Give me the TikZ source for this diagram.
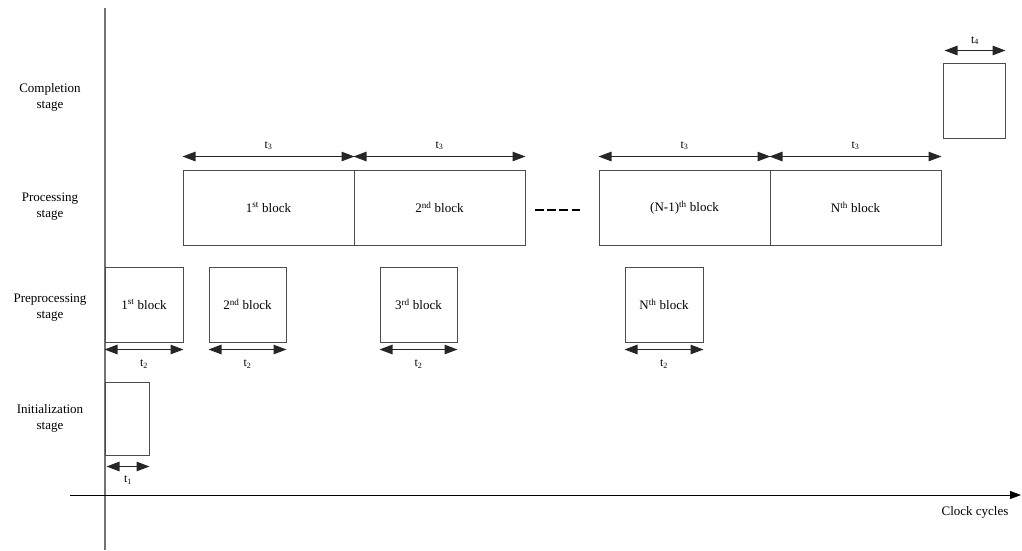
\documentclass[tikz,border=0pt]{standalone}
\usepackage{fontspec}
\setmainfont{Liberation Serif}
\usetikzlibrary{arrows.meta}
\begin{document}
\begin{tikzpicture}[x=1pt,y=-1pt,
  box/.style={draw=black!70,line width=1pt,inner sep=0pt,font=\fontsize{13}{15}\selectfont},
  dim/.style={{Triangle[length=13pt,width=9.5pt]}-{Triangle[length=13pt,width=9.5pt]},line width=1.2pt,draw=black!85,fill=black!85},
  tl/.style={font=\fontsize{12}{14}\selectfont,inner sep=1pt},
  stage/.style={align=center,font=\fontsize{13}{16}\selectfont},
  axis/.style={line width=1pt}]
\useasboundingbox (0,0) rectangle (1022,550);
% axes
\coordinate (vtop) at (105,8);
\coordinate (vbot) at (105,550);
\coordinate (hl) at (70,495);
\coordinate (hr) at (1021,495);
\draw[axis,draw=black!55,line width=1.2pt] (vtop) -- (vbot);
\draw[axis,-{Triangle[length=11pt,width=8pt]}] (hl) -- (hr);
\node[font=\fontsize{13}{15}\selectfont,anchor=center] (clk) at (975,512) {Clock cycles};
% stage labels
\node[stage] (sc) at (50,97) {Completion\\stage};
\node[stage] (sp) at (50,207) {Processing\\stage};
\node[stage] (spp) at (50,308) {Preprocessing\\stage};
\node[stage] (si) at (50,418) {Initialization\\stage};
% completion
\node[box,minimum width=62pt,minimum height=75pt] (c1) at (974,100.5) {};
\draw[dim] ([xshift=2pt,yshift=12pt]c1.north west) -- ([yshift=12pt]c1.north east) node[midway,above=4pt,tl] (t4) {t\textsubscript{4}};
% processing
\node[box,minimum width=171pt,minimum height=75pt] (p1) at (268.5,207.5) {1\textsuperscript{st} block};
\node[box,minimum width=171pt,minimum height=75pt] (p2) at (439.5,207.5) {2\textsuperscript{nd} block};
\node[box,minimum width=171pt,minimum height=75pt] (p3) at (684.5,207.5) {(N-1)\textsuperscript{th} block};
\node[box,minimum width=171pt,minimum height=75pt] (p4) at (855.5,207.5) {N\textsuperscript{th} block};
\foreach \n in {p1,p2,p3,p4}{
  \draw[dim] ([yshift=13pt]\n.north west) -- ([yshift=13pt]\n.north east) node[midway,above=5pt,tl] {t\textsubscript{3}};
}
\coordinate (d1) at (535,210);
\coordinate (d2) at (580,210);
\draw[line width=2.6pt,dash pattern=on 8.5pt off 3.7pt] (d1) -- (d2);
% preprocessing
\node[box,minimum width=78pt,minimum height=75pt] (q1) at (144,304.5) {1\textsuperscript{st} block};
\node[box,minimum width=77pt,minimum height=75pt] (q2) at (247.5,304.5) {2\textsuperscript{nd} block};
\node[box,minimum width=77pt,minimum height=75pt] (q3) at (418.5,304.5) {3\textsuperscript{rd} block};
\node[box,minimum width=78pt,minimum height=75pt] (q4) at (664,304.5) {N\textsuperscript{th} block};
\foreach \n in {q1,q2,q3,q4}{
  \draw[dim] ([yshift=-7pt]\n.south west) -- ([yshift=-7pt]\n.south east) node[midway,below=9pt,tl] {t\textsubscript{2}};
}
% initialization
\node[box,minimum width=44pt,minimum height=73pt] (i1) at (127,418.5) {};
\draw[dim] ([xshift=2pt,yshift=-11pt]i1.south west) -- ([yshift=-11pt]i1.south east) node[midway,below=8pt,tl] (t1) {t\textsubscript{1}};
\end{tikzpicture}
\end{document}
